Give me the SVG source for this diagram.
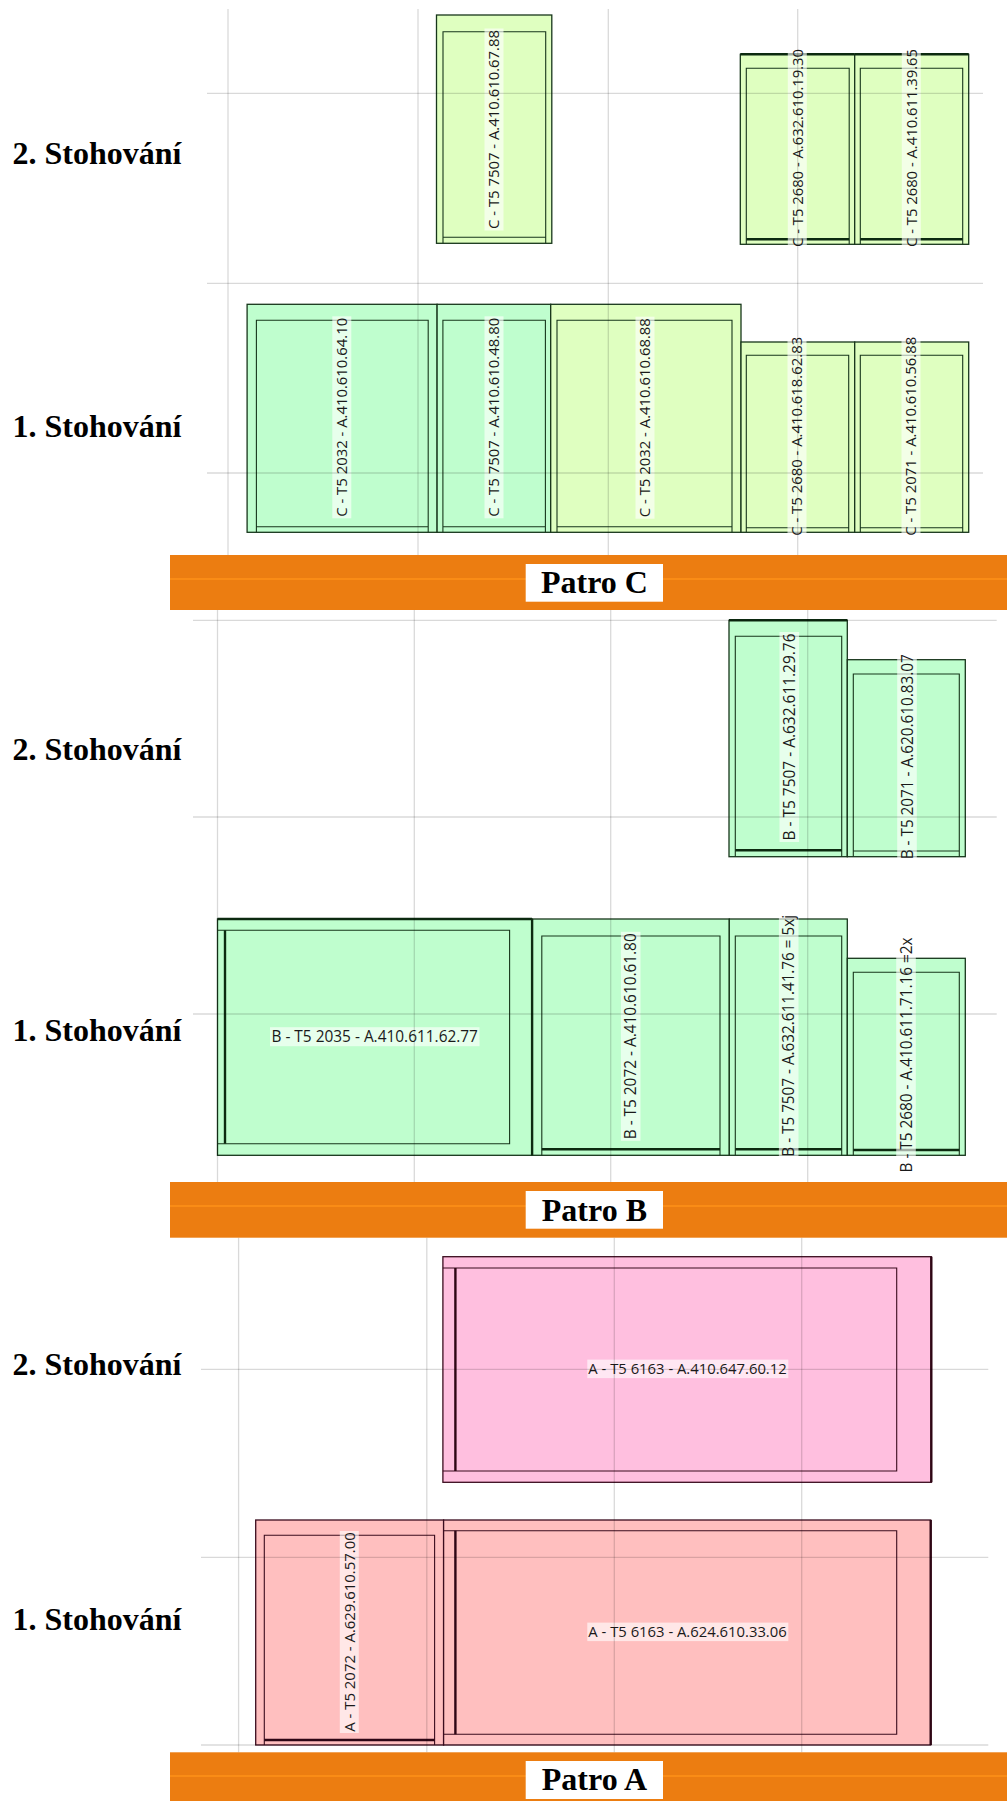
<svg xmlns="http://www.w3.org/2000/svg" width="1007" height="1801" viewBox="0 0 1007 1801">
  <style>
    .mint { fill: #BFFECE; }
    .yel { fill: #DFFFC0; }
    .pink { fill: #FFBFDF; }
    .salm { fill: #FFBFBF; }
    .o { stroke: #17361b; stroke-width: 1.3; }
    .i { fill: none; stroke: #17361b; stroke-width: 1.1; }
    .th { fill: none; stroke: #0c2a10; stroke-width: 2.4; }
    .po { stroke: #3b0c1e; stroke-width: 1.3; }
    .pi { fill: none; stroke: #3b0c1e; stroke-width: 1.1; }
    .pth { fill: none; stroke: #2e0614; stroke-width: 2.4; }
    .lbg { fill: #ffffff; fill-opacity: 0.62; }
    .lt { font-family: "Open Sans", "DejaVu Sans", sans-serif; font-size: 15px; fill: #1a1a1a; text-anchor: middle; }
    .lb { font-size: 15.5px; }
    .st { font-family: "Liberation Serif", "Times New Roman", serif; font-weight: bold; font-size: 32px; fill: #000; }
    .pt { font-family: "Liberation Serif", "Times New Roman", serif; font-weight: bold; font-size: 32px; fill: #000; text-anchor: middle; }
    .grid line { stroke: #000; stroke-opacity: 0.15; stroke-width: 1.3; }
    .bar { fill: #EC7D11; }
    .stripe { fill: #FA8C16; }
  </style>

  <rect width="1007" height="1801" fill="#ffffff"/>

  <!-- ===== Patro C ===== -->
  <g id="c2-7507">
    <rect class="yel o" x="436.5" y="15" width="115.3" height="228.3"/>
    <path class="i" d="M443 243.3V31.7H545.7V243.3M443 237.3H545.7"/>
    <g transform="translate(494 129.5) rotate(-90)">
      <rect class="lbg" x="-101" y="-9.5" width="202" height="19"/>
      <text class="lt" y="5.3" textLength="199" lengthAdjust="spacingAndGlyphs">C - T5 7507 - A.410.610.67.88</text>
    </g>
  </g>
  <g id="c2-2680-a">
    <rect class="yel o" x="740.3" y="54.3" width="114.4" height="190"/>
    <path class="th" d="M740.3 54.3H854.7"/>
    <path class="i" d="M746.3 244.3V68.3H849.2V244.3"/>
    <path class="th" d="M746.3 239.3H849.2"/>
    <g transform="translate(797.3 148) rotate(-90)">
      <rect class="lbg" x="-101" y="-9.5" width="202" height="19"/>
      <text class="lt" y="5.3" textLength="198" lengthAdjust="spacingAndGlyphs">C - T5 2680 - A.632.610.19.30</text>
    </g>
  </g>
  <g id="c2-2680-b">
    <rect class="yel o" x="854.7" y="54.3" width="114" height="190"/>
    <path class="th" d="M854.7 54.3H968.7"/>
    <path class="i" d="M860.3 244.3V68.3H962.7V244.3"/>
    <path class="th" d="M860.3 239.3H962.7"/>
    <g transform="translate(911.3 148) rotate(-90)">
      <rect class="lbg" x="-101" y="-9.5" width="202" height="19"/>
      <text class="lt" y="5.3" textLength="198" lengthAdjust="spacingAndGlyphs">C - T5 2680 - A.410.611.39.65</text>
    </g>
  </g>

  <g id="c1-2032-a">
    <rect class="mint o" x="247.1" y="304.3" width="190" height="228"/>
    <path class="i" d="M256.4 532.3V320.3H428.2V532.3M256.4 526.7H428.2"/>
    <g transform="translate(341.8 417.3) rotate(-90)">
      <rect class="lbg" x="-101" y="-9.5" width="202" height="19"/>
      <text class="lt" y="5.3" textLength="199" lengthAdjust="spacingAndGlyphs">C - T5 2032 - A.410.610.64.10</text>
    </g>
  </g>
  <g id="c1-7507">
    <rect class="mint o" x="437.1" y="304.3" width="113.6" height="228"/>
    <path class="i" d="M442.9 532.3V320.3H545.4V532.3M442.9 526.7H545.4"/>
    <g transform="translate(494 417.3) rotate(-90)">
      <rect class="lbg" x="-101" y="-9.5" width="202" height="19"/>
      <text class="lt" y="5.3" textLength="199" lengthAdjust="spacingAndGlyphs">C - T5 7507 - A.410.610.48.80</text>
    </g>
  </g>
  <g id="c1-2032-b">
    <rect class="yel o" x="550.7" y="304.3" width="190.3" height="228"/>
    <path class="i" d="M557 532.3V320.3H732V532.3M557 526.7H732"/>
    <g transform="translate(645 417.7) rotate(-90)">
      <rect class="lbg" x="-101" y="-9.5" width="202" height="19"/>
      <text class="lt" y="5.3" textLength="199" lengthAdjust="spacingAndGlyphs">C - T5 2032 - A.410.610.68.88</text>
    </g>
  </g>
  <g id="c1-2680">
    <rect class="yel o" x="741" y="342" width="113.7" height="190.3"/>
    <path class="i" d="M746.3 532.3V355.3H848.7V532.3M746.3 527.7H848.7"/>
    <g transform="translate(797 436.3) rotate(-90)">
      <rect class="lbg" x="-101" y="-9.5" width="202" height="19"/>
      <text class="lt" y="5.3" textLength="199" lengthAdjust="spacingAndGlyphs">C - T5 2680 - A.410.618.62.83</text>
    </g>
  </g>
  <g id="c1-2071">
    <rect class="yel o" x="854.7" y="342" width="114" height="190.3"/>
    <path class="i" d="M860.3 532.3V355.3H962.7V532.3M860.3 527.7H962.7"/>
    <g transform="translate(911 436.3) rotate(-90)">
      <rect class="lbg" x="-101" y="-9.5" width="202" height="19"/>
      <text class="lt" y="5.3" textLength="199" lengthAdjust="spacingAndGlyphs">C - T5 2071 - A.410.610.56.88</text>
    </g>
  </g>

  <!-- ===== Patro B ===== -->
  <g id="b2-7507">
    <rect class="mint o" x="729" y="620.3" width="118.3" height="236.4"/>
    <path class="th" d="M729 620.3H847.3"/>
    <path class="i" d="M735.3 856.7V636.3H841.7V856.7"/>
    <path class="th" d="M735.3 850.3H841.7"/>
    <g transform="translate(789.3 737) rotate(-90)">
      <rect class="lbg" x="-105" y="-9.8" width="210" height="19.6"/>
      <text class="lt lb" y="5.5" textLength="207" lengthAdjust="spacingAndGlyphs">B - T5 7507 - A.632.611.29.76</text>
    </g>
  </g>
  <g id="b2-2071">
    <rect class="mint o" x="847.3" y="659.7" width="118" height="197"/>
    <path class="i" d="M853.3 856.7V674H959.3V856.7M853.3 851H959.3"/>
    <g transform="translate(907 756.8) rotate(-90)">
      <rect class="lbg" x="-104" y="-9.8" width="208" height="19.6"/>
      <text class="lt lb" y="5.5" textLength="205" lengthAdjust="spacingAndGlyphs">B - T5 2071 - A.620.610.83.07</text>
    </g>
  </g>

  <g id="b1-2035">
    <rect class="mint o" x="217.5" y="919" width="314.6" height="236.3"/>
    <path class="th" d="M217.5 919H532.1"/>
    <path class="i" d="M217.5 930.3H509.6V1143.7H217.5"/>
    <path class="th" d="M225 930.3V1143.7"/>
    <rect class="lbg" x="270" y="1027.2" width="209.5" height="19"/>
    <text class="lt lb" x="374.7" y="1042" textLength="206.5" lengthAdjust="spacingAndGlyphs">B - T5 2035 - A.410.611.62.77</text>
  </g>
  <g id="b1-2072">
    <rect class="mint o" x="532.1" y="919" width="197.2" height="236.3"/>
    <path class="th" d="M532.1 919V1155.3"/>
    <path class="i" d="M541.8 1155.3V936H720V1155.3"/>
    <path class="th" d="M541.8 1149.3H720"/>
    <g transform="translate(630.7 1036.3) rotate(-90)">
      <rect class="lbg" x="-104.5" y="-9.8" width="209" height="19.6"/>
      <text class="lt lb" y="5.5" textLength="206" lengthAdjust="spacingAndGlyphs">B - T5 2072 - A.410.610.61.80</text>
    </g>
  </g>
  <g id="b1-7507">
    <rect class="mint o" x="729.3" y="919" width="118" height="236.3"/>
    <path class="i" d="M735.3 1155.3V936H841.7V1155.3"/>
    <path class="th" d="M735.3 1149.3H841.7"/>
    <g transform="translate(788.7 1035.8) rotate(-90)">
      <rect class="lbg" x="-122.5" y="-9.8" width="245" height="19.6"/>
      <text class="lt lb" y="5.5" textLength="241.7" lengthAdjust="spacingAndGlyphs">B - T5 7507 - A.632.611.41.76 = 5xj</text>
    </g>
  </g>
  <g id="b1-2680">
    <rect class="mint o" x="847.3" y="958.3" width="118" height="197"/>
    <path class="i" d="M853.3 1155.3V972.3H959.3V1155.3"/>
    <path class="th" d="M853.3 1150H959.3"/>
    <g transform="translate(906 1055) rotate(-90)">
      <rect class="lbg" x="-119" y="-9.8" width="238" height="19.6"/>
      <text class="lt lb" y="5.5" textLength="235" lengthAdjust="spacingAndGlyphs">B - T5 2680 - A.410.611.71.16 =2x</text>
    </g>
  </g>

  <!-- ===== Patro A ===== -->
  <g id="a2-6163">
    <rect class="pink po" x="442.9" y="1256.7" width="488.4" height="225.6"/>
    <path class="pth" d="M931.3 1256.7V1482.3"/>
    <path class="pi" d="M442.9 1268H896.7V1471H442.9"/>
    <path class="pth" d="M455.4 1268V1471"/>
    <rect class="lbg" x="587.3" y="1359.6" width="201" height="18.5"/>
    <text class="lt" x="687.5" y="1374" textLength="198.4" lengthAdjust="spacingAndGlyphs">A - T5 6163 - A.410.647.60.12</text>
  </g>

  <g id="a1-2072">
    <rect class="salm po" x="255.7" y="1520" width="187.9" height="225"/>
    <path class="pi" d="M264.3 1745V1535.3H434.6V1745"/>
    <path class="pth" d="M264.3 1740H434.6"/>
    <g transform="translate(349.3 1632) rotate(-90)">
      <rect class="lbg" x="-101" y="-9.5" width="202" height="19"/>
      <text class="lt" y="5.3" textLength="199.4" lengthAdjust="spacingAndGlyphs">A - T5 2072 - A.629.610.57.00</text>
    </g>
  </g>
  <g id="a1-6163">
    <rect class="salm po" x="443.6" y="1520" width="487.1" height="225"/>
    <path class="pth" d="M930.7 1520V1745"/>
    <path class="pi" d="M443.6 1530.7H896.7V1734.3H443.6"/>
    <path class="pth" d="M455.4 1530.7V1734.3"/>
    <rect class="lbg" x="587.3" y="1622.6" width="201" height="18.5"/>
    <text class="lt" x="687.5" y="1637" textLength="198.4" lengthAdjust="spacingAndGlyphs">A - T5 6163 - A.624.610.33.06</text>
  </g>

  <!-- chart gridlines, drawn over the load boxes -->
  <g id="connectors" class="grid">
    <line x1="228" y1="9" x2="228" y2="555"/>
    <line x1="418" y1="9" x2="418" y2="555"/>
    <line x1="608.3" y1="9" x2="608.3" y2="555"/>
    <line x1="797.7" y1="9" x2="797.7" y2="555"/>
    <line x1="207" y1="93.3" x2="983" y2="93.3"/>
    <line x1="207" y1="283.3" x2="983" y2="283.3"/>
    <line x1="207" y1="473" x2="983" y2="473"/>

    <line x1="217.5" y1="610" x2="217.5" y2="1182"/>
    <line x1="414.3" y1="610" x2="414.3" y2="1182"/>
    <line x1="610.7" y1="610" x2="610.7" y2="1182"/>
    <line x1="807.7" y1="610" x2="807.7" y2="1182"/>
    <line x1="193" y1="620.3" x2="996.7" y2="620.3"/>
    <line x1="193" y1="817" x2="996.7" y2="817"/>
    <line x1="193" y1="1014" x2="996.7" y2="1014"/>

    <line x1="238.6" y1="1237.7" x2="238.6" y2="1752.3"/>
    <line x1="426.8" y1="1237.7" x2="426.8" y2="1752.3"/>
    <line x1="614.3" y1="1237.7" x2="614.3" y2="1752.3"/>
    <line x1="801.7" y1="1237.7" x2="801.7" y2="1752.3"/>
    <line x1="201" y1="1369.3" x2="988.3" y2="1369.3"/>
    <line x1="201" y1="1557.3" x2="988.3" y2="1557.3"/>
    <line x1="201" y1="1745" x2="988.3" y2="1745"/>
  </g>

  <!-- row captions -->
  <g id="row-captions">
    <text class="st" x="12.5" y="164">2. Stohování</text>
    <text class="st" x="12.5" y="437">1. Stohování</text>
    <text class="st" x="12.5" y="760">2. Stohování</text>
    <text class="st" x="12.5" y="1040.7">1. Stohování</text>
    <text class="st" x="12.5" y="1375">2. Stohování</text>
    <text class="st" x="12.5" y="1630">1. Stohování</text>
  </g>

  <!-- floor bands -->
  <g id="patro-c">
    <rect class="bar" x="170" y="555" width="837" height="55"/>
    <rect class="stripe" x="170" y="578" width="837" height="2"/>
    <rect x="525.7" y="564" width="137.3" height="37.7" fill="#ffffff"/>
    <text class="pt" x="594.4" y="593.3">Patro C</text>
  </g>
  <g id="patro-b">
    <rect class="bar" x="170" y="1182" width="837" height="55.7"/>
    <rect class="stripe" x="170" y="1205" width="837" height="2"/>
    <rect x="525.7" y="1191" width="137.3" height="37.7" fill="#ffffff"/>
    <text class="pt" x="594.4" y="1220.7">Patro B</text>
  </g>
  <g id="patro-a">
    <rect class="bar" x="170" y="1752.3" width="837" height="48.7"/>
    <rect class="stripe" x="170" y="1775" width="837" height="2"/>
    <rect x="525.7" y="1761" width="137.3" height="38" fill="#ffffff"/>
    <text class="pt" x="594.4" y="1790">Patro A</text>
  </g>
</svg>
